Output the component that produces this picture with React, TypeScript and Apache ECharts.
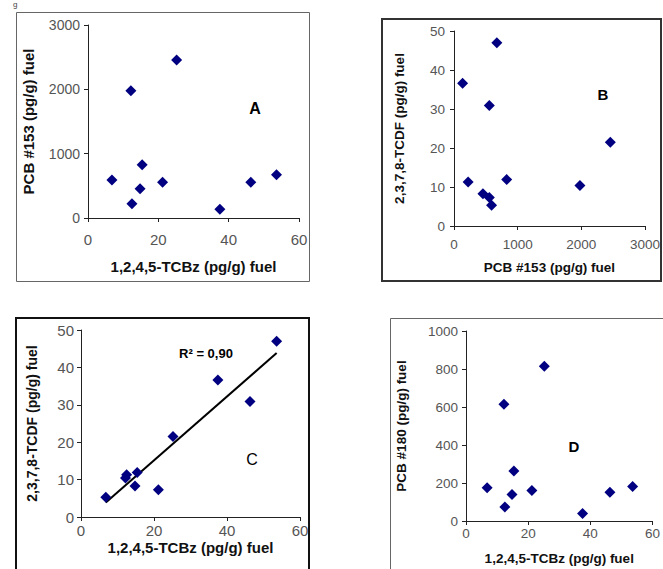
import React, { useEffect, useRef } from "react";
import * as echarts from "echarts";

// Shared sample data (10 fuels)
const tcbz = [6.8, 12.2, 12.5, 14.8, 15.4, 21.2, 25.2, 37.5, 46.3, 53.6];
const pcb153 = [590, 1978, 222, 455, 828, 555, 2455, 135, 555, 673];
const tcdf = [5.3, 10.4, 11.3, 8.3, 11.9, 7.3, 21.5, 36.6, 30.9, 47.0];
const pcb180 = [175, 614, 74, 139, 263, 161, 814, 39, 151, 182];

const xTitleTCBz = "1,2,4,5-TCBz (pg/g) fuel";
const titlePCB153 = "PCB #153 (pg/g) fuel";
const titleTCDF = "2,3,7,8-TCDF (pg/g) fuel";
const titlePCB180 = "PCB #180 (pg/g) fuel";
const panelLetters = ["A", "B", "C", "D"];
const r2Label = "R² = 0,90";
const cornerText = "g";

const FONT = "'Liberation Sans', Arial, sans-serif";
const NAVY = "#000080";

function pairs(xs: number[], ys: number[]) {
  return xs.map((x, i) => [x, ys[i]]);
}

function fitLine(xs: number[], ys: number[]) {
  const n = xs.length;
  const mx = xs.reduce((a, b) => a + b, 0) / n;
  const my = ys.reduce((a, b) => a + b, 0) / n;
  let sxy = 0;
  let sxx = 0;
  for (let i = 0; i < n; i++) {
    sxy += (xs[i] - mx) * (ys[i] - my);
    sxx += (xs[i] - mx) * (xs[i] - mx);
  }
  const b = sxy / sxx;
  const a = my - b * mx;
  const x0 = Math.min(...xs);
  const x1 = Math.max(...xs);
  return [
    [x0, a + b * x0],
    [x1, a + b * x1],
  ];
}

function axis(
  gridIndex: number,
  max: number,
  interval: number,
  name: string,
  nameGap: number,
  nameSize: number,
  labelSize: number,
  labelMargin: number
) {
  return {
    type: "value",
    gridIndex,
    min: 0,
    max,
    interval,
    name,
    nameLocation: "middle",
    nameGap,
    nameTextStyle: {
      fontFamily: FONT,
      fontWeight: "bold",
      fontSize: nameSize,
      color: "#111",
    },
    axisLine: { show: true, onZero: false, lineStyle: { color: "#222", width: 1 } },
    axisTick: { show: true, inside: false, length: 4, lineStyle: { color: "#222", width: 1 } },
    axisLabel: {
      color: "#555",
      fontFamily: FONT,
      fontSize: labelSize,
      margin: labelMargin,
      hideOverlap: false,
      formatter: (v: number) => String(v),
    },
    splitLine: { show: false },
  };
}

function scatter(idx: number, data: number[][]) {
  return {
    type: "scatter",
    xAxisIndex: idx,
    yAxisIndex: idx,
    data,
    symbol: "diamond",
    symbolSize: [11, 11],
    itemStyle: { color: NAVY, opacity: 1 },
  };
}

export default function App() {
  const ref = useRef<HTMLDivElement>(null);

  useEffect(() => {
    if (!ref.current) return;
    const chart = echarts.init(ref.current, null, { renderer: "svg" });

    const option = {
      animation: false,
      backgroundColor: "#ffffff",
      grid: [
        { left: 88, top: 25, width: 211, height: 193 },
        { left: 454, top: 31, width: 194, height: 195 },
        { left: 81, top: 330, width: 219, height: 187 },
        { left: 466, top: 331, width: 195, height: 190 },
      ],
      xAxis: [
        axis(0, 60, 20, xTitleTCBz, 41, 15, 15, 14),
        axis(1, 3000, 1000, titlePCB153, 34, 13.5, 13.5, 11),
        axis(2, 60, 20, xTitleTCBz, 23, 15, 15, 6),
        axis(3, 60, 20, xTitleTCBz, 30, 13.5, 13.5, 5),
      ],
      yAxis: [
        axis(0, 3000, 1000, titlePCB153, 52, 15, 14, 8),
        axis(1, 50, 10, titleTCDF, 48, 13.5, 13.5, 9),
        axis(2, 50, 10, titleTCDF, 42, 14, 15, 7),
        axis(3, 1000, 200, titlePCB180, 58, 13.5, 13.5, 8),
      ],
      series: [
        scatter(0, pairs(tcbz, pcb153)),
        scatter(1, pairs(pcb153, tcdf)),
        {
          type: "line",
          xAxisIndex: 2,
          yAxisIndex: 2,
          data: fitLine(tcbz, tcdf),
          showSymbol: false,
          symbol: "none",
          lineStyle: { color: "#000", width: 2 },
          z: 1,
        },
        { ...scatter(2, pairs(tcbz, tcdf)), z: 3 },
        scatter(3, pairs(tcbz, pcb180)),
      ],
      graphic: [
        {
          type: "text",
          left: 13,
          top: 0,
          style: { text: cornerText, font: `8px ${FONT}`, fill: "#444" },
        },
        {
          type: "rect",
          shape: { x: 16.5, y: 12.5, width: 293, height: 269 },
          style: { fill: "none", stroke: "#666", lineWidth: 1 },
        },
        {
          type: "rect",
          shape: { x: 382, y: 19, width: 279, height: 262 },
          style: { fill: "none", stroke: "#333", lineWidth: 2 },
        },
        {
          type: "rect",
          shape: { x: 16, y: 318, width: 293, height: 280 },
          style: { fill: "none", stroke: "#111", lineWidth: 2 },
        },
        {
          type: "rect",
          shape: { x: 390.5, y: 318.5, width: 300, height: 280 },
          style: { fill: "none", stroke: "#666", lineWidth: 1 },
        },
        {
          type: "text",
          x: 255,
          y: 108,
          style: {
            text: panelLetters[0],
            font: `bold 16px ${FONT}`,
            fill: "#000",
            align: "center",
            verticalAlign: "middle",
          },
        },
        {
          type: "text",
          x: 603,
          y: 94,
          style: {
            text: panelLetters[1],
            font: `bold 15px ${FONT}`,
            fill: "#000",
            align: "center",
            verticalAlign: "middle",
          },
        },
        {
          type: "text",
          x: 252,
          y: 459,
          style: {
            text: panelLetters[2],
            font: `16px ${FONT}`,
            fill: "#000",
            align: "center",
            verticalAlign: "middle",
          },
        },
        {
          type: "text",
          x: 574,
          y: 446,
          style: {
            text: panelLetters[3],
            font: `bold 15px ${FONT}`,
            fill: "#000",
            align: "center",
            verticalAlign: "middle",
          },
        },
        {
          type: "text",
          x: 206,
          y: 353,
          style: {
            text: r2Label,
            font: `bold 13px ${FONT}`,
            fill: "#000",
            align: "center",
            verticalAlign: "middle",
          },
        },
      ],
    };

    chart.setOption(option as any);
    return () => chart.dispose();
  }, []);

  return (
    <div
      ref={ref}
      style={{ position: "absolute", left: 0, top: 0, width: 663, height: 569 }}
    />
  );
}
